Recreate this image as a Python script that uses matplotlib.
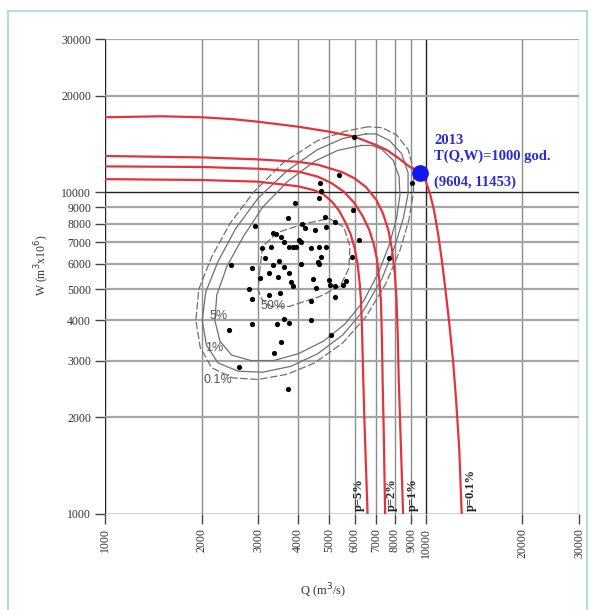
import matplotlib
matplotlib.use("Agg")
from matplotlib import pyplot as plt, patches
from matplotlib.ticker import FixedLocator, FixedFormatter, NullLocator

# podziałki osi (Q i W)
q_ticks = [1000, 2000, 3000, 4000, 5000, 6000, 7000, 8000, 9000, 10000, 20000, 30000]
w_ticks = [1000, 2000, 3000, 4000, 5000, 6000, 7000, 8000, 9000, 10000, 20000, 30000]

# obserwacje (Q, W)
obs_q = [5370, 4680, 4700, 4630, 3920, 5940, 3710, 4860, 5200, 2940, 4110, 4190, 4500, 4880,
         3330, 3410, 3540, 3600, 4010, 4070, 6200, 3090, 3290, 3740, 3850, 3940, 4390, 4630,
         4880, 4710, 5880, 3160, 2470, 2880, 3350, 3480, 3620, 4080, 4610, 4660, 3240, 3750,
         3040, 3450, 3810, 3860, 4440, 4550, 4980, 5030, 5220, 5530, 5630, 2820, 2880, 3240,
         3510, 4390, 5200, 2430, 2880, 3430, 3600, 3750, 4390, 3540, 5050, 3370, 2610, 3710,
         5950, 9040, 7670]
obs_w = [11330, 10720, 10120, 9590, 9250, 8820, 8310, 8370, 8110, 7860, 7980, 7730, 7640, 7820,
         7500, 7430, 7250, 7030, 7110, 7030, 7110, 6700, 6750, 6750, 6750, 6750, 6700, 6750,
         6750, 6310, 6310, 6240, 5950, 5830, 5950, 6140, 5850, 5990, 6090, 5990, 5630, 5630,
         5410, 5450, 5280, 5120, 5380, 5030, 5340, 5160, 5120, 5140, 5320, 5000, 4650, 4800,
         4860, 4600, 4740, 3730, 3890, 3900, 4030, 3940, 4010, 3430, 3600, 3160, 2860, 2440,
         14900, 10720, 6240]

# izolinie prawdopodobieństwa p (czerwone)
p_names = ["p=5%", "p=2%", "p=1%", "p=0.1%"]
p_label_q = [6185, 7855, 9104, 13793]
p5_q = [1000, 2000, 3000, 4000, 4500, 4810, 5100, 5360, 5600, 5820, 6000, 6130, 6220, 6275,
        6330, 6380, 6450, 6580]
p5_w = [11000, 10930, 10800, 10450, 10150, 9840, 9350, 8790, 8100, 7440, 6700, 5955, 5200,
        4630, 3600, 2610, 1800, 1000]
p2_q = [1000, 2000, 3000, 4000, 4600, 5080, 5550, 5970, 6350, 6660, 6880, 7040, 7160, 7240,
        7290, 7330, 7390, 7465]
p2_w = [12050, 12000, 11850, 11610, 11200, 10690, 10050, 9300, 8450, 7650, 6900, 6200, 5300,
        4630, 3600, 2610, 1800, 1000]
p1_q = [1000, 2000, 3000, 4000, 4600, 5000, 5500, 6000, 6500, 7000, 7350, 7650, 7850, 8000,
        8100, 8170, 8230, 8330, 8490]
p1_w = [12980, 12850, 12670, 12450, 12200, 11900, 11550, 11050, 10400, 9500, 8600, 7600, 6600,
        5600, 4630, 3600, 2610, 1800, 1000]
p01_q = [1000, 1500, 2000, 2500, 3000, 4000, 5000, 6000, 7000, 7600, 8200, 8900, 9604, 10000,
         10300, 10600, 10900, 11200, 11500, 11800, 12150, 12420, 12700, 12930]
p01_w = [17130, 17250, 17130, 16900, 16590, 16010, 15450, 14900, 14040, 13500, 12800, 12020,
         11453, 10800, 9900, 8800, 7500, 6200, 5000, 4000, 3000, 2260, 1600, 1000]

# kontury rozkładu łącznego (szare)
c_names = ["50%", "5%", "1%", "0.1%"]
c_label_q = [3330, 2262, 2194, 2246]
c_label_w = [4435, 4128, 3275, 2610]
c50_q = [3030, 3100, 3450, 4100, 5000, 5550, 5800, 5750, 5400, 4650, 3750, 3300, 3080, 3000, 3030]
c50_w = [5600, 6800, 7500, 7950, 8300, 7800, 6800, 5800, 5100, 4740, 4420, 4420, 4650, 5000, 5600]
c5_q = [6300, 5300, 4500, 3700, 3100, 2700, 2400, 2230, 2200, 2280, 2480, 2850, 3350, 4000,
        4800, 5600, 6400, 7100, 7700, 8100, 8300, 8250, 7900, 7300, 6800, 6300]
c5_w = [14000, 13500, 12500, 10800, 9000, 7300, 5900, 4800, 4000, 3450, 3120, 3000, 3000, 3150,
        3450, 3900, 4600, 5600, 6900, 8300, 9800, 11200, 12600, 13600, 14000, 14000]
c1_q = [6500, 5500, 4600, 3700, 3000, 2550, 2250, 2060, 2010, 2070, 2250, 2600, 3100, 3800,
        4600, 5500, 6400, 7300, 8000, 8500, 8800, 8800, 8400, 7700, 7000, 6500]
c1_w = [15200, 14700, 13600, 11700, 9600, 7700, 6100, 4900, 4000, 3350, 2950, 2780, 2760, 2880,
        3150, 3600, 4300, 5400, 6800, 8300, 9900, 11500, 13200, 14500, 15200, 15200]
c01_q = [6600, 5600, 4600, 3600, 2900, 2450, 2150, 1960, 1920, 1980, 2150, 2500, 3000, 3700,
         4500, 5500, 6500, 7500, 8300, 8850, 9150, 9150, 8800, 8100, 7300, 6600]
c01_w = [16000, 15500, 14500, 12400, 10000, 8000, 6300, 5000, 4000, 3300, 2850, 2650, 2620, 2720,
         2950, 3400, 4100, 5200, 6600, 8200, 10000, 11800, 13600, 15100, 15900, 16000]

# zdarzenie 2013
event_year = 2013
event_q, event_w = 9604, 11453
event_T = 1000

serif = ["Liberation Serif", "DejaVu Serif"]
red = "#e3343c"
grey = "#707070"

fig = plt.figure(figsize=(5.91, 6.10), dpi=100)
ax = fig.add_axes([105 / 591, 1 - 514 / 610, 474 / 591, 475 / 610])
ax.set_xscale("log")
ax.set_yscale("log")
ax.set_xlim(1000, 30000)
ax.set_ylim(1000, 30000)

# siatka
for q in q_ticks:
    dark = q in (1000, 10000)
    ax.axvline(q, color="#222222" if dark else "#8c8c8c", lw=1.0, zorder=1)
for w in w_ticks:
    dark = w in (1000, 10000)
    ax.axhline(w, color="#222222" if dark else "#a6a6a6", lw=1.0 if dark else 1.6, zorder=1)

for s in ax.spines.values():
    s.set_visible(False)

ax.xaxis.set_major_locator(FixedLocator(q_ticks))
ax.xaxis.set_major_formatter(FixedFormatter([str(v) for v in q_ticks]))
ax.xaxis.set_minor_locator(NullLocator())
ax.yaxis.set_major_locator(FixedLocator(w_ticks))
ax.yaxis.set_major_formatter(FixedFormatter([str(v) for v in w_ticks]))
ax.yaxis.set_minor_locator(NullLocator())
ax.tick_params(axis="both", direction="out", length=7, width=1, color="#444444",
               labelsize=8.5, labelcolor="#333333", pad=3)
for lab in ax.get_xticklabels():
    lab.set_rotation(90)
    lab.set_family(serif)
for lab in ax.get_yticklabels():
    lab.set_family(serif)

# kontury
for cq, cw, ls in [(c50_q, c50_w, (0, (6, 2))), (c5_q, c5_w, "-"),
                   (c1_q, c1_w, "-"), (c01_q, c01_w, (0, (6, 2)))]:
    ax.plot(cq, cw, color=grey, lw=0.9, ls=ls, zorder=2, solid_joinstyle="round")
for name, lq, lw_ in zip(c_names, c_label_q, c_label_w):
    ax.text(lq, lw_, name, color="#555555", fontsize=9, ha="center", va="center",
            family=["Liberation Sans", "DejaVu Sans"], zorder=3)

# izolinie p
for pq, pw in [(p5_q, p5_w), (p2_q, p2_w), (p1_q, p1_w), (p01_q, p01_w)]:
    ax.plot(pq, pw, color=red, lw=1.6, zorder=4, solid_joinstyle="round")
for name, lq in zip(p_names, p_label_q):
    ax.text(lq, 1025, name, rotation=90, ha="center", va="bottom", fontsize=9,
            fontweight="bold", family=serif, color="#222222", zorder=5)

# obserwacje
ax.scatter(obs_q, obs_w, s=14, color="black", zorder=5, linewidths=0)

# zdarzenie 2013
ax.plot([event_q], [event_w], "o", color="#1515ee", markersize=11, zorder=6)
blue = "#2a2ad0"
for txt, dy in [(str(event_year), 33), ("T(Q,W)=%d god." % event_T, 17),
                ("(%d, %d)" % (event_q, event_w), -9)]:
    ax.annotate(txt, (event_q, event_w), xytext=(14, dy), textcoords="offset pixels",
                ha="left", va="center", fontsize=10.5, fontweight="bold", color=blue,
                family=serif, zorder=7)

# opisy osi
fig.text(323 / 591, 1 - 591 / 610, "Q (m$^3$/s)", ha="center", va="center",
         fontsize=9, family=serif, color="#333333")
fig.text(42 / 591, 1 - 265 / 610, "W (m$^3$x10$^6$)", ha="center", va="center",
         rotation=90, fontsize=8.5, family=serif, color="#333333")

# ramka
fig.add_artist(patches.Rectangle((8 / 591, -0.05), 579 / 591, 1.05 - 11 / 610,
                                 transform=fig.transFigure, fill=False,
                                 edgecolor="#b3dbe6", lw=1.5))

fig.savefig("out.png", dpi=100)
